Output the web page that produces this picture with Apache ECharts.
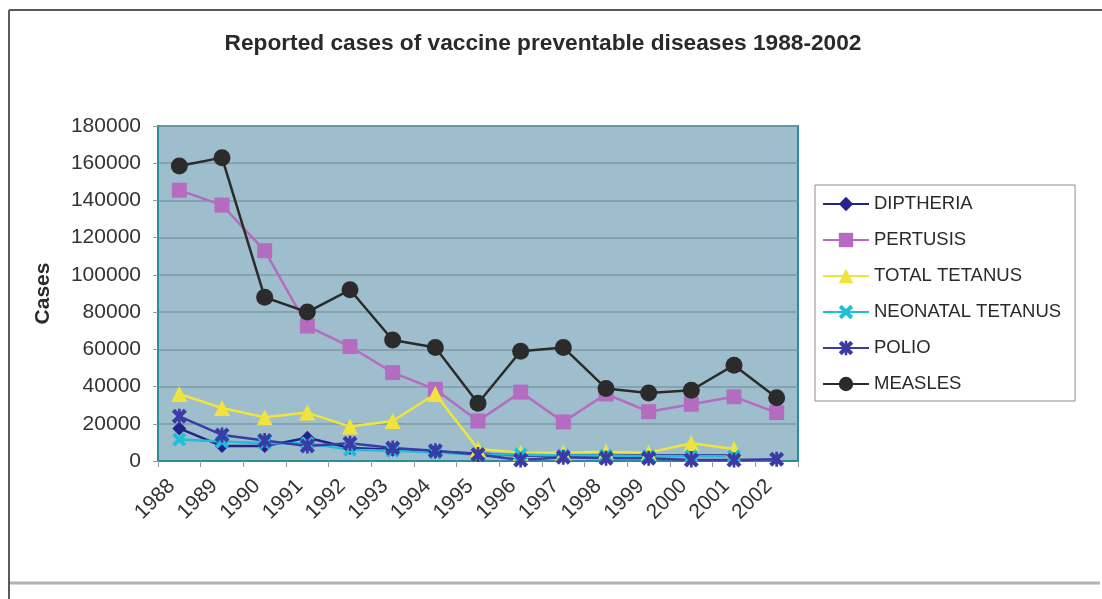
<!DOCTYPE html>
<html>
<head>
<meta charset="utf-8">
<title>Reported cases of vaccine preventable diseases 1988-2002</title>
<script src="https://cdn.jsdelivr.net/npm/echarts@6/dist/echarts.min.js"></script>
<style>
  html, body { margin: 0; padding: 0; background: #ffffff; }
  #chart { width: 1102px; height: 599px; }
</style>
</head>
<body>
<div id="chart"></div>
<script>
// Years on the category axis
const years = ['1988', '1989', '1990', '1991', '1992', '1993', '1994', '1995',
               '1996', '1997', '1998', '1999', '2000', '2001', '2002'];

// Reported cases per year for each disease (null = not reported)
const diptheria       = [17500, 8000, 8000, 12500, 7000, 6000, 5000, 4000, 3000, 3000, 3000, 3000, 3000, 3000, null];
const pertusis        = [145500, 137500, 113000, 72500, 61500, 47500, 38500, 21500, 37000, 21000, 36000, 26500, 30500, 34500, 26000];
const totalTetanus    = [36000, 28500, 23500, 26000, 18500, 21500, 36000, 6500, 4500, 4500, 5000, 4500, 9500, 6500, null];
const neonatalTetanus = [11500, 10500, 9500, 9500, 6000, 5500, 4500, 3500, 3500, 3000, 3000, 2500, 2500, 2500, null];
const polio           = [24000, 14000, 11000, 8000, 9500, 7000, 5500, 3500, 500, 2000, 1500, 1500, 500, 500, 1000];
const measles         = [158500, 163000, 88000, 80000, 92000, 65000, 61000, 31000, 59000, 61000, 39000, 36500, 38000, 51500, 34000];

// Value axis
const yMax = 180000;
const yStep = 20000;

// Filled cross and asterisk glyphs for the tetanus / polio markers
const crossPath = 'path://M0,2 L2,0 L5,3 L8,0 L10,2 L7,5 L10,8 L8,10 L5,7 L2,10 L0,8 L3,5 Z';
const asteriskPath = 'path://M0,2 L2,0 L5,3 L8,0 L10,2 L7,5 L10,8 L8,10 L5,7 L2,10 L0,8 L3,5 Z M4.1,0 L5.9,0 L5.9,10 L4.1,10 Z';

const FONT = 'Liberation Sans, Arial, sans-serif';

function lineSeries(name, data, color, symbol, size) {
  return {
    name: name,
    type: 'line',
    data: data,
    symbol: symbol,
    symbolSize: size,
    showSymbol: true,
    connectNulls: false,
    lineStyle: { color: color, width: 2.5 },
    itemStyle: { color: color, borderWidth: 0 },
    emphasis: { disabled: true },
    animation: false
  };
}

const chart = echarts.init(document.getElementById('chart'), null, { renderer: 'canvas' });

chart.setOption({
  backgroundColor: '#ffffff',
  animation: false,
  textStyle: { fontFamily: FONT },
  grid: {
    left: 158, right: 304, top: 126, bottom: 138,
    show: true,
    backgroundColor: '#9fbecd',
    borderColor: '#2b8c9b',
    borderWidth: 2
  },
  legend: {
    orient: 'vertical',
    left: 815,
    top: 185,
    padding: [9, 14, 7, 7],
    itemWidth: 46,
    itemHeight: 18,
    itemGap: 16,
    backgroundColor: '#ffffff',
    borderColor: '#8c8c8c',
    borderWidth: 1,
    selectedMode: false,
    textStyle: {
      fontFamily: FONT,
      fontSize: 18.5,
      lineHeight: 20,
      color: '#2a2a2a'
    },
    data: ['DIPTHERIA', 'PERTUSIS', 'TOTAL TETANUS', 'NEONATAL TETANUS', 'POLIO', 'MEASLES']
  },
  xAxis: {
    type: 'category',
    data: years,
    boundaryGap: true,
    axisLine: { show: true, lineStyle: { color: '#2b8c9b', width: 2 } },
    axisTick: { show: true, length: 6, lineStyle: { color: '#9a9a9a' } },
    axisLabel: {
      rotate: 45,
      margin: 14,
      padding: [0, 11, 0, 0],
      fontSize: 21,
      color: '#333333',
      fontFamily: FONT
    },
    splitLine: { show: false }
  },
  yAxis: {
    type: 'value',
    min: 0,
    max: yMax,
    interval: yStep,
    name: 'Cases',
    nameLocation: 'middle',
    nameRotate: 90,
    nameGap: 104,
    nameTextStyle: {
      fontSize: 21,
      fontWeight: 'bold',
      color: '#2a2a2a',
      fontFamily: FONT
    },
    axisLine: { show: true, lineStyle: { color: '#2b8c9b', width: 2 } },
    axisTick: { show: true, length: 5, lineStyle: { color: '#9a9a9a' } },
    axisLabel: {
      margin: 17,
      fontSize: 21,
      color: '#333333',
      fontFamily: FONT,
      formatter: function (v) { return String(v); }
    },
    splitLine: { show: true, lineStyle: { color: '#7b98a6', width: 1.6 } }
  },
  graphic: [
    { type: 'line', shape: { x1: 9, y1: 10, x2: 1102, y2: 10 }, style: { stroke: '#5a5a5a', lineWidth: 2 }, z: 10 },
    { type: 'line', shape: { x1: 9, y1: 10, x2: 9, y2: 599 }, style: { stroke: '#5a5a5a', lineWidth: 2 }, z: 10 },
    { type: 'line', shape: { x1: 10, y1: 583, x2: 1100, y2: 583 }, style: { stroke: '#b4b4b4', lineWidth: 3 }, z: 10 },
    {
      type: 'text',
      x: 543, y: 44,
      style: {
        text: 'Reported cases of vaccine preventable diseases 1988-2002',
        fontFamily: FONT,
        fontSize: 22.7,
        fontWeight: 'bold',
        fill: '#2a2a2a',
        textAlign: 'center',
        textVerticalAlign: 'middle'
      },
      z: 10
    }
  ],
  series: [
    lineSeries('DIPTHERIA', diptheria, '#23238a', 'diamond', 14),
    lineSeries('PERTUSIS', pertusis, '#b46cc0', 'rect', 15),
    lineSeries('TOTAL TETANUS', totalTetanus, '#f0e43c', 'triangle', 16),
    lineSeries('NEONATAL TETANUS', neonatalTetanus, '#22bdd6', crossPath, 14),
    lineSeries('POLIO', polio, '#3b3ba6', asteriskPath, 15),
    lineSeries('MEASLES', measles, '#2b2b2b', 'circle', 17)
  ]
});
</script>
</body>
</html>
